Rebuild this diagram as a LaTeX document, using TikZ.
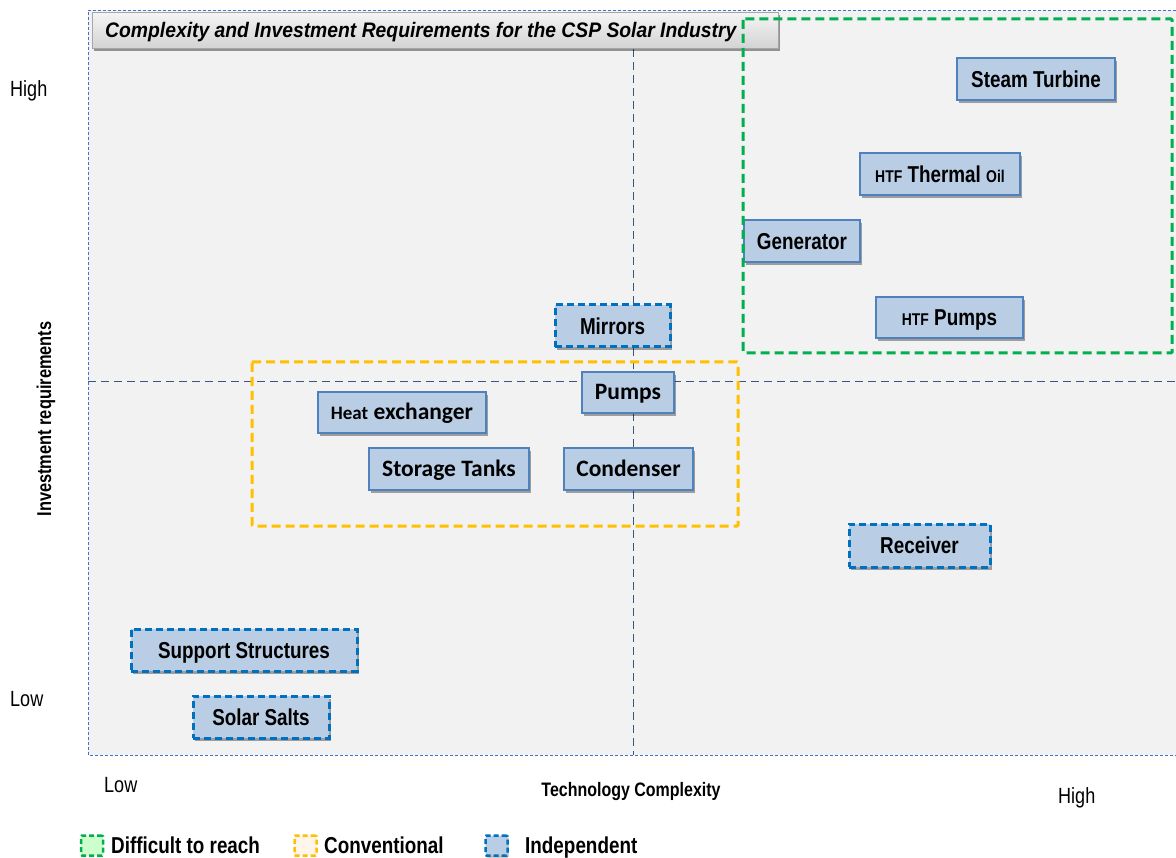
\documentclass[tikz,border=0pt]{standalone}
\usepackage{fontspec}
\setmainfont{Liberation Sans}[FakeStretch=0.82]
\newfontfamily\calfont{Carlito}
\newfontfamily\widesans{Liberation Sans}[FakeStretch=0.92]
\usetikzlibrary{shadows}

\definecolor{plotbg}{HTML}{F2F2F2}
\definecolor{boxfill}{HTML}{B9CDE5}
\definecolor{boxline}{HTML}{4F81BD}
\definecolor{indep}{HTML}{0070C0}
\definecolor{hard}{HTML}{00B050}
\definecolor{conv}{HTML}{FFC000}
\definecolor{cross}{HTML}{3A5488}
\definecolor{frameblue}{HTML}{4472C4}

\tikzset{
  item/.style={draw=boxline, line width=1.2pt, fill=boxfill, inner sep=0pt,
    font=\fontsize{23}{26}\selectfont\bfseries, text height=20pt, text depth=3.4pt,
    drop shadow={shadow xshift=2pt, shadow yshift=-3pt, opacity=0.35, fill=black}},
  indepitem/.style={item, draw=indep, line width=3pt, dash pattern=on 7pt off 4pt},
  calitem/.style={item, font=\calfont\fontsize{23.5}{26}\selectfont\bfseries,
    text height=19pt, text depth=4pt},
  group/.style={line width=3pt, dash pattern=on 9pt off 5pt, rounded corners=1pt},
  crossline/.style={draw=cross, line width=1pt, dash pattern=on 8pt off 5pt},
  axislabel/.style={inner sep=0pt, font=\fontsize{22}{24}\selectfont},
  legendtext/.style={inner sep=0pt, anchor=base west, font=\fontsize{23}{26}\selectfont\bfseries},
  legendicon/.style={minimum width=22pt, minimum height=20pt, inner sep=0pt,
    line width=2.5pt, dash pattern=on 5pt off 3pt, rounded corners=1pt},
}

\begin{document}
\begin{tikzpicture}[x=1pt, y=-1pt]
  \useasboundingbox (0,0) rectangle (1176,858);

  % plot area
  \fill[plotbg] (88,10) rectangle (1176,755);
  \draw[frameblue, line width=0.8pt, dash pattern=on 3pt off 2pt]
    (1176,10) -- (88,10) -- (88,755) -- (1176,755);

  % quadrant divisions
  \coordinate (vtop) at (633,10);
  \coordinate (vbot) at (633,755);
  \coordinate (hleft) at (88,382);
  \coordinate (hright) at (1176,382);
  \draw[crossline] (vtop) -- (vbot);
  \draw[crossline] (hleft) -- (hright);

  % title bar
  \node[minimum width=686pt, minimum height=36pt, inner sep=0pt,
        draw=gray!70, line width=0.6pt,
        top color=white!96!black, bottom color=black!17,
        drop shadow={shadow xshift=2pt, shadow yshift=-3pt, opacity=0.4, fill=black}]
        (titlebar) at (435,30) {};
  \node[inner sep=0pt, anchor=base west, font=\widesans\fontsize{21}{24}\selectfont\bfseries\itshape]
        (title) at (105,38) {Complexity and Investment Requirements for the CSP Solar Industry};

  % components
  \node[item, minimum width=158pt, minimum height=42pt] (turbine) at (1036,79) {Steam Turbine};
  \node[item, minimum width=160pt, minimum height=42pt] (oil) at (940,174)
    {{\fontsize{17}{18}\selectfont HTF} Thermal {\fontsize{17}{18}\selectfont Oil}};
  \node[item, minimum width=116pt, minimum height=42pt] (generator) at (802,241) {Generator};
  \node[item, minimum width=147pt, minimum height=41pt] (htfpumps) at (949.5,317.5)
    {{\fontsize{17}{18}\selectfont HTF} Pumps};
  \node[indepitem, minimum width=115pt, minimum height=42pt] (mirrors) at (612.5,326) {Mirrors};
  \node[calitem, minimum width=92pt, minimum height=41pt] (pumps) at (628,392.5) {Pumps};
  \node[calitem, minimum width=168pt, minimum height=41pt] (hx) at (402,412.5)
    {{\fontsize{19}{20}\selectfont Heat} exchanger};
  \node[calitem, minimum width=160pt, minimum height=42pt] (tanks) at (449,469) {Storage Tanks};
  \node[calitem, minimum width=129pt, minimum height=42pt] (condenser) at (628.5,469) {Condenser};
  \node[indepitem, minimum width=141pt, minimum height=43pt] (receiver) at (919.5,545.5) {Receiver};
  \node[indepitem, minimum width=226pt, minimum height=42pt] (support) at (244,650) {Support Structures};
  \node[indepitem, minimum width=136pt, minimum height=42pt] (salts) at (261,717) {Solar Salts};

  % groups
  \draw[group, draw=hard] (743,19) rectangle (1172,353);
  \draw[group, draw=conv] (252,362) rectangle (738,526);

  % axis labels
  \node[axislabel, anchor=base west] (yhigh) at (10,97) {High};
  \node[axislabel, anchor=base west] (ylow) at (10,706) {Low};
  \node[axislabel, anchor=base west] (xlow) at (104,792) {Low};
  \node[axislabel, anchor=base west] (xhigh) at (1058,803) {High};
  \node[inner sep=0pt, font=\fontsize{19.5}{21}\selectfont\bfseries] (xtitle) at (631,791) {Technology Complexity};
  \node[inner sep=0pt, rotate=90, font=\fontsize{20}{21}\selectfont\bfseries] (ytitle) at (46,419) {Investment requirements};

  % legend
  \node[legendicon, draw=hard, fill=green!20] (lghard) at (92,845.5) {};
  \node[legendtext] (lthard) at (111,853) {Difficult to reach};
  \node[legendicon, draw=conv, fill=orange!8] (lgconv) at (305.5,845.5) {};
  \node[legendtext] (ltconv) at (324,853) {Conventional};
  \node[legendicon, draw=indep, fill=boxfill,
        drop shadow={shadow xshift=1pt, shadow yshift=-2pt, opacity=0.3, fill=black}] (lgind) at (496.5,845.5) {};
  \node[legendtext] (ltind) at (525,853) {Independent};
\end{tikzpicture}
\end{document}
